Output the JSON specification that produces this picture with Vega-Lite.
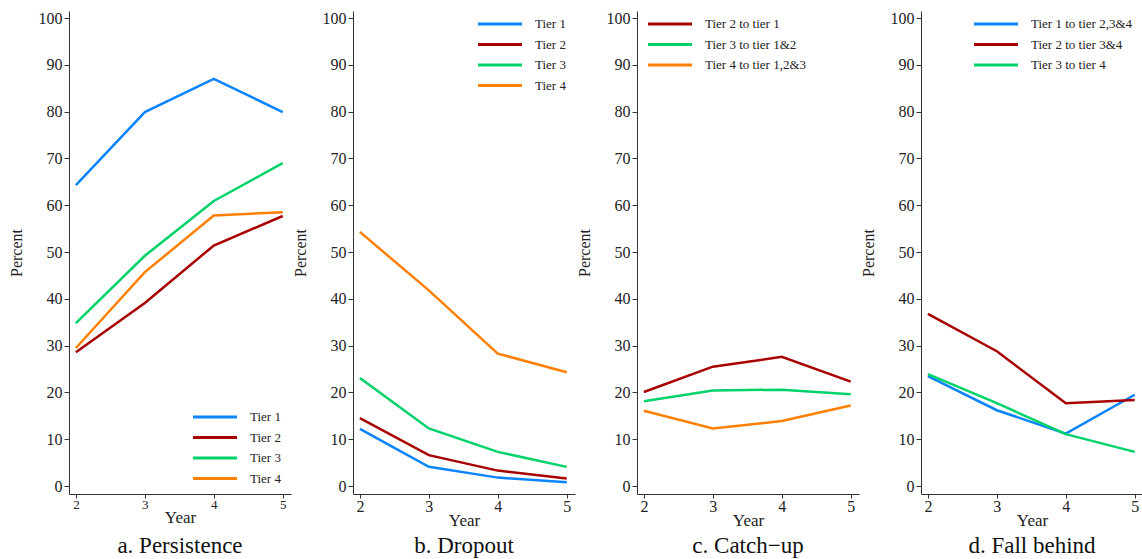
{
  "$schema": "https://vega.github.io/schema/vega-lite/v6.json",
  "padding": {"left": 8, "top": 10, "right": 0, "bottom": 0},
  "config": {
    "view": {"stroke": null},
    "font": "Liberation Serif",
    "axis": {
      "grid": false,
      "domainColor": "#333333",
      "tickColor": "#333333",
      "labelColor": "#222222",
      "titleColor": "#222222",
      "titleFontWeight": "normal",
      "labelFont": "Liberation Serif",
      "titleFont": "Liberation Serif",
      "tickSize": 5
    },
    "axisX": {"tickSize": 4, "labelPadding": 0, "titlePadding": -2, "titleFontSize": 17},
    "axisY": {"labelFontSize": 16, "titleFontSize": 16, "titlePadding": 14},
    "legend": {
      "orient": "none",
      "title": null,
      "symbolType": "M-4,0H4",
      "symbolSize": 121,
      "symbolStrokeWidth": 3,
      "labelFontSize": 13,
      "labelOffset": 28,
      "labelFont": "Liberation Serif",
      "labelColor": "#222222",
      "rowPadding": 6.5
    },
    "title": {"orient": "bottom", "fontSize": 23, "fontWeight": "normal", "font": "Liberation Serif", "color": "#111111", "frame": "group", "offset": 7}
  },
  "datasets": {
    "persistence": [
      {"year": 2, "pct": 64.3, "series": "Tier 1"}, {"year": 3, "pct": 79.9, "series": "Tier 1"},
      {"year": 4, "pct": 87.0, "series": "Tier 1"}, {"year": 5, "pct": 79.9, "series": "Tier 1"},
      {"year": 2, "pct": 28.6, "series": "Tier 2"}, {"year": 3, "pct": 39.1, "series": "Tier 2"},
      {"year": 4, "pct": 51.4, "series": "Tier 2"}, {"year": 5, "pct": 57.7, "series": "Tier 2"},
      {"year": 2, "pct": 34.8, "series": "Tier 3"}, {"year": 3, "pct": 49.2, "series": "Tier 3"},
      {"year": 4, "pct": 60.9, "series": "Tier 3"}, {"year": 5, "pct": 69.0, "series": "Tier 3"},
      {"year": 2, "pct": 29.5, "series": "Tier 4"}, {"year": 3, "pct": 45.7, "series": "Tier 4"},
      {"year": 4, "pct": 57.8, "series": "Tier 4"}, {"year": 5, "pct": 58.5, "series": "Tier 4"}
    ],
    "dropout": [
      {"year": 2, "pct": 12.2, "series": "Tier 1"}, {"year": 3, "pct": 4.1, "series": "Tier 1"},
      {"year": 4, "pct": 1.8, "series": "Tier 1"}, {"year": 5, "pct": 0.8, "series": "Tier 1"},
      {"year": 2, "pct": 14.5, "series": "Tier 2"}, {"year": 3, "pct": 6.6, "series": "Tier 2"},
      {"year": 4, "pct": 3.3, "series": "Tier 2"}, {"year": 5, "pct": 1.6, "series": "Tier 2"},
      {"year": 2, "pct": 23.1, "series": "Tier 3"}, {"year": 3, "pct": 12.3, "series": "Tier 3"},
      {"year": 4, "pct": 7.3, "series": "Tier 3"}, {"year": 5, "pct": 4.1, "series": "Tier 3"},
      {"year": 2, "pct": 54.3, "series": "Tier 4"}, {"year": 3, "pct": 41.8, "series": "Tier 4"},
      {"year": 4, "pct": 28.3, "series": "Tier 4"}, {"year": 5, "pct": 24.3, "series": "Tier 4"}
    ],
    "catchup": [
      {"year": 2, "pct": 20.1, "series": "Tier 2 to tier 1"}, {"year": 3, "pct": 25.5, "series": "Tier 2 to tier 1"},
      {"year": 4, "pct": 27.6, "series": "Tier 2 to tier 1"}, {"year": 5, "pct": 22.3, "series": "Tier 2 to tier 1"},
      {"year": 2, "pct": 18.1, "series": "Tier 3 to tier 1&2"}, {"year": 3, "pct": 20.4, "series": "Tier 3 to tier 1&2"},
      {"year": 4, "pct": 20.6, "series": "Tier 3 to tier 1&2"}, {"year": 5, "pct": 19.6, "series": "Tier 3 to tier 1&2"},
      {"year": 2, "pct": 16.1, "series": "Tier 4 to tier 1,2&3"}, {"year": 3, "pct": 12.3, "series": "Tier 4 to tier 1,2&3"},
      {"year": 4, "pct": 13.9, "series": "Tier 4 to tier 1,2&3"}, {"year": 5, "pct": 17.2, "series": "Tier 4 to tier 1,2&3"}
    ],
    "fallbehind": [
      {"year": 2, "pct": 23.5, "series": "Tier 1 to tier 2,3&4"}, {"year": 3, "pct": 16.2, "series": "Tier 1 to tier 2,3&4"},
      {"year": 4, "pct": 11.2, "series": "Tier 1 to tier 2,3&4"}, {"year": 5, "pct": 19.5, "series": "Tier 1 to tier 2,3&4"},
      {"year": 2, "pct": 36.8, "series": "Tier 2 to tier 3&4"}, {"year": 3, "pct": 28.8, "series": "Tier 2 to tier 3&4"},
      {"year": 4, "pct": 17.7, "series": "Tier 2 to tier 3&4"}, {"year": 5, "pct": 18.4, "series": "Tier 2 to tier 3&4"},
      {"year": 2, "pct": 23.9, "series": "Tier 3 to tier 4"}, {"year": 3, "pct": 17.7, "series": "Tier 3 to tier 4"},
      {"year": 4, "pct": 11.1, "series": "Tier 3 to tier 4"}, {"year": 5, "pct": 7.3, "series": "Tier 3 to tier 4"}
    ]
  },
  "spacing": 1,
  "hconcat": [
    {
      "data": {"name": "persistence"},
      "width": 222, "height": 483,
      "title": {"text": "a. Persistence", "offset": 10},
      "mark": {"type": "line", "strokeWidth": 2.5},
      "encoding": {
        "x": {"field": "year", "type": "quantitative", "scale": {"domain": [1.9, 5.12], "nice": false, "zero": false},
              "axis": {"values": [2, 3, 4, 5], "title": "Year", "labelFontSize": 13}},
        "y": {"field": "pct", "type": "quantitative", "scale": {"domain": [-1.7, 101.5], "nice": false},
              "axis": {"values": [0, 10, 20, 30, 40, 50, 60, 70, 80, 90, 100], "title": "Percent"}},
        "color": {"field": "series", "type": "nominal",
                  "scale": {"domain": ["Tier 1", "Tier 2", "Tier 3", "Tier 4"], "range": ["#0a84ff", "#a80000", "#00d26a", "#ff8000"]},
                  "legend": {"legendX": 139, "legendY": 399}}
      }
    },
    {
      "data": {"name": "dropout"},
      "width": 222, "height": 483,
      "title": {"text": "b. Dropout"},
      "mark": {"type": "line", "strokeWidth": 2.5},
      "encoding": {
        "x": {"field": "year", "type": "quantitative", "scale": {"domain": [1.9, 5.12], "nice": false, "zero": false},
              "axis": {"values": [2, 3, 4, 5], "title": "Year", "labelFontSize": 16}},
        "y": {"field": "pct", "type": "quantitative", "scale": {"domain": [-1.7, 101.5], "nice": false},
              "axis": {"values": [0, 10, 20, 30, 40, 50, 60, 70, 80, 90, 100], "title": "Percent"}},
        "color": {"field": "series", "type": "nominal",
                  "scale": {"domain": ["Tier 1", "Tier 2", "Tier 3", "Tier 4"], "range": ["#0a84ff", "#a80000", "#00d26a", "#ff8000"]},
                  "legend": {"legendX": 140, "legendY": 6}}
      }
    },
    {
      "data": {"name": "catchup"},
      "width": 222, "height": 483,
      "title": {"text": "c. Catch\u2212up"},
      "mark": {"type": "line", "strokeWidth": 2.5},
      "encoding": {
        "x": {"field": "year", "type": "quantitative", "scale": {"domain": [1.9, 5.12], "nice": false, "zero": false},
              "axis": {"values": [2, 3, 4, 5], "title": "Year", "labelFontSize": 16}},
        "y": {"field": "pct", "type": "quantitative", "scale": {"domain": [-1.7, 101.5], "nice": false},
              "axis": {"values": [0, 10, 20, 30, 40, 50, 60, 70, 80, 90, 100], "title": "Percent"}},
        "color": {"field": "series", "type": "nominal",
                  "scale": {"domain": ["Tier 2 to tier 1", "Tier 3 to tier 1&2", "Tier 4 to tier 1,2&3"], "range": ["#a80000", "#00d26a", "#ff8000"]},
                  "legend": {"legendX": 26, "legendY": 6}}
      }
    },
    {
      "data": {"name": "fallbehind"},
      "width": 222, "height": 483,
      "title": {"text": "d. Fall behind"},
      "mark": {"type": "line", "strokeWidth": 2.5},
      "encoding": {
        "x": {"field": "year", "type": "quantitative", "scale": {"domain": [1.9, 5.12], "nice": false, "zero": false},
              "axis": {"values": [2, 3, 4, 5], "title": "Year", "labelFontSize": 16}},
        "y": {"field": "pct", "type": "quantitative", "scale": {"domain": [-1.7, 101.5], "nice": false},
              "axis": {"values": [0, 10, 20, 30, 40, 50, 60, 70, 80, 90, 100], "title": "Percent"}},
        "color": {"field": "series", "type": "nominal",
                  "scale": {"domain": ["Tier 1 to tier 2,3&4", "Tier 2 to tier 3&4", "Tier 3 to tier 4"], "range": ["#0a84ff", "#a80000", "#00d26a"]},
                  "legend": {"legendX": 68, "legendY": 6}}
      }
    }
  ],
  "resolve": {"scale": {"color": "independent", "x": "independent", "y": "independent"}, "legend": {"color": "independent"}}
}
